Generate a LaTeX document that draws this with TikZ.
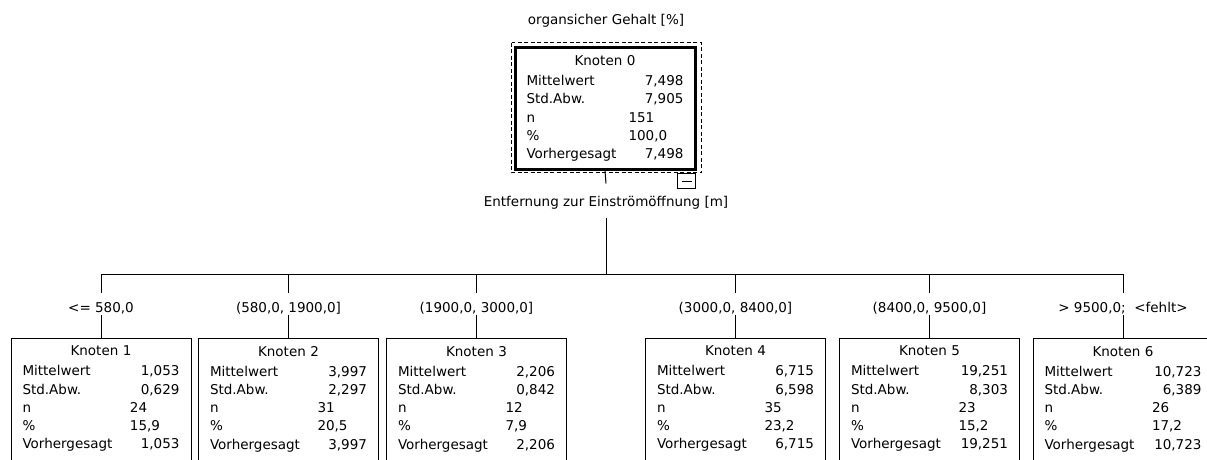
\documentclass[tikz,border=0pt]{standalone}
\usepackage{fontspec}
\setmainfont{DejaVu Sans}
\usetikzlibrary{positioning}
\newlength{\boxtw}\setlength{\boxtw}{157pt}
\newcommand{\headrow}[1]{\makebox[\boxtw][c]{#1}\\[1.75pt]}
\newcommand{\statrow}[2]{\makebox[\boxtw][l]{#1\hfill#2}}
\newcommand{\countrow}[3][107.5pt]{\makebox[\boxtw][l]{\makebox[#1][l]{#2}#3}}
% last row of a cut-off box (box runs on below the page edge)
\newcommand{\cutrow}[2]{\statrow{#1}{#2}\rule[-12pt]{0pt}{1pt}}

\begin{document}
\begin{tikzpicture}[
    x=1pt, y=-1pt, line width=1pt,
    knot/.style={rectangle, draw, anchor=north, text width=\boxtw, inner xsep=11.5pt, inner ysep=8pt, align=left, font=\fontsize{13.5}{18.25}\selectfont},
    rootknot/.style={knot, line width=3pt},
    cond/.style={anchor=base, font=\fontsize{13.5}{16}\selectfont, text height=17pt, text depth=0pt, inner xsep=1pt, inner ysep=2pt},
    selbox/.style={dashed, dash pattern=on 4pt off 2.5pt, line width=1pt},
    collapse/.style={rectangle, draw, fill=white, anchor=north east, minimum width=18pt, minimum height=15pt, inner sep=0pt}
]
    \useasboundingbox (0,0) rectangle (1207,459);
    \clip (0,0) rectangle (1207,459);

    % Top - dependent variable and root node
    \node[font=\fontsize{13.5}{16}\selectfont, anchor=base] (title) at (606,24) {organsicher Gehalt [\%]};

    \node[rootknot] (root) at (605,46) {
        \headrow{Knoten 0}
        \statrow{Mittelwert}{7,498}\\
        \statrow{Std.Abw.}{7,905}\\
        \countrow[102pt]{n}{151}\\
        \countrow[102pt]{\%}{100,0}\\
        \statrow{Vorhergesagt}{7,498}
    };
    \draw[selbox] ([xshift=-2pt,yshift=3.5pt]root.north west) rectangle ([xshift=5pt,yshift=-2pt]root.south east);
    \node[collapse] (fold) at (696,173) {\rule{10pt}{1pt}};

    % Split variable
    \node[cond, text height=20pt, text depth=9pt] (split) at (606,206) {Entfernung zur Einströmöffnung [m]};
    \coordinate (bar) at (606,274.5);
    \draw (root.south) -- (split.north);
    \draw (split.south) -- (bar);

    % Split conditions
    \node[cond] (cond1) at (101,312) {<= 580,0};
    \node[cond] (cond2) at (288.5,312) {(580,0, 1900,0]};
    \node[cond] (cond3) at (476.5,312) {(1900,0, 3000,0]};
    \node[cond] (cond4) at (735.5,312) {(3000,0, 8400,0]};
    \node[cond] (cond5) at (929.5,312) {(8400,0, 9500,0]};
    \node[cond] (cond6) at (1123,312) {> 9500,0;\ \ <fehlt>};

    % Child nodes
    \node[knot] (knot1) at (101,337.5) {
        \headrow{Knoten 1}
        \statrow{Mittelwert}{1,053}\\
        \statrow{Std.Abw.}{0,629}\\
        \countrow{n}{24}\\
        \countrow{\%}{15,9}\\
        \cutrow{Vorhergesagt}{1,053}
    };
    \node[knot] (knot2) at (288.5,337.5) {
        \headrow{Knoten 2}
        \statrow{Mittelwert}{3,997}\\
        \statrow{Std.Abw.}{2,297}\\
        \countrow{n}{31}\\
        \countrow{\%}{20,5}\\
        \cutrow{Vorhergesagt}{3,997}
    };
    \node[knot] (knot3) at (476.5,337.5) {
        \headrow{Knoten 3}
        \statrow{Mittelwert}{2,206}\\
        \statrow{Std.Abw.}{0,842}\\
        \countrow{n}{12}\\
        \countrow{\%}{7,9}\\
        \cutrow{Vorhergesagt}{2,206}
    };
    \node[knot] (knot4) at (735.5,337.5) {
        \headrow{Knoten 4}
        \statrow{Mittelwert}{6,715}\\
        \statrow{Std.Abw.}{6,598}\\
        \countrow{n}{35}\\
        \countrow{\%}{23,2}\\
        \cutrow{Vorhergesagt}{6,715}
    };
    \node[knot] (knot5) at (929.5,337.5) {
        \headrow{Knoten 5}
        \statrow{Mittelwert}{19,251}\\
        \statrow{Std.Abw.}{8,303}\\
        \countrow{n}{23}\\
        \countrow{\%}{15,2}\\
        \cutrow{Vorhergesagt}{19,251}
    };
    \node[knot] (knot6) at (1123,337.5) {
        \headrow{Knoten 6}
        \statrow{Mittelwert}{10,723}\\
        \statrow{Std.Abw.}{6,389}\\
        \countrow{n}{26}\\
        \countrow{\%}{17,2}\\
        \cutrow{Vorhergesagt}{10,723}
    };

    % Branches
    \draw (bar) -| (cond1.north);
    \draw (bar) -| (cond2.north);
    \draw (bar) -| (cond3.north);
    \draw (bar) -| (cond4.north);
    \draw (bar) -| (cond5.north);
    \draw (bar) -| (cond6.north);
    \draw (cond1.south) -- (knot1.north);
    \draw (cond2.south) -- (knot2.north);
    \draw (cond3.south) -- (knot3.north);
    \draw (cond4.south) -- (knot4.north);
    \draw (cond5.south) -- (knot5.north);
    \draw (cond6.south) -- (knot6.north);

\end{tikzpicture}
\end{document}
